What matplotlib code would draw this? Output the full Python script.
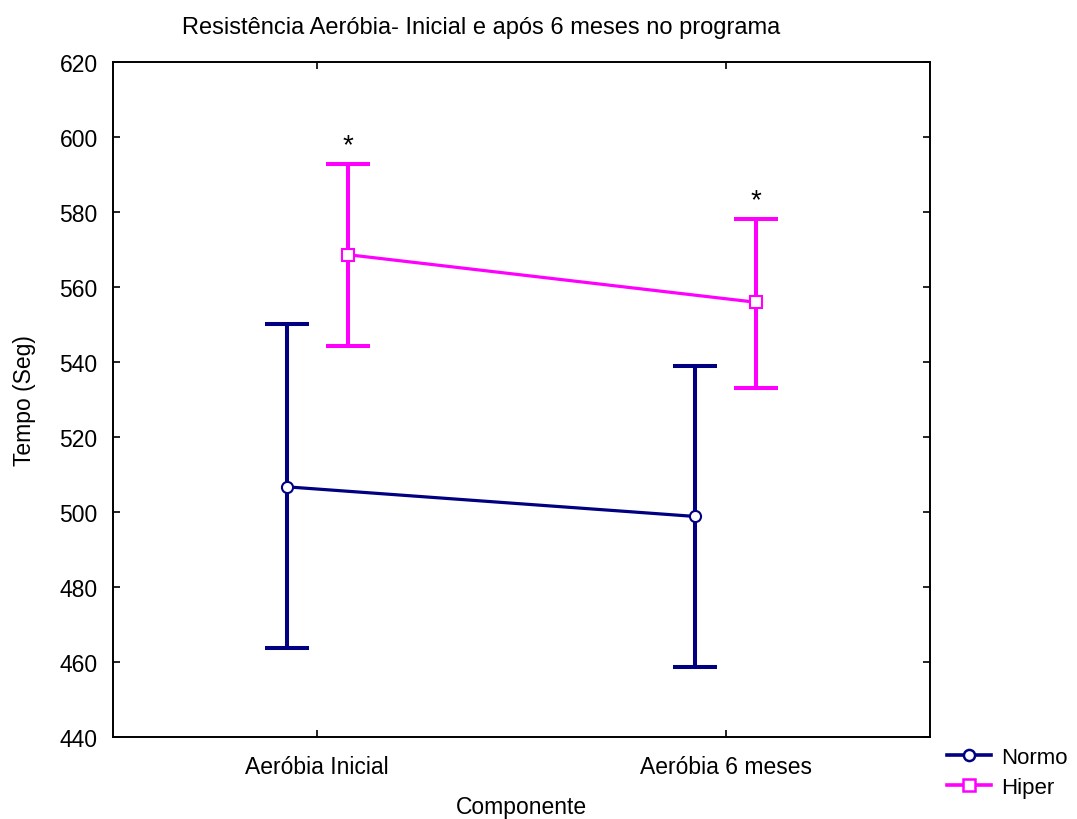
import matplotlib.pyplot as plt
from matplotlib.lines import Line2D
import numpy as np

plt.rcParams['font.family'] = ['Liberation Sans', 'DejaVu Sans']

# Grupos e componentes
componentes = ['Aeróbia Inicial', 'Aeróbia 6 meses']
normo_media = [506.8, 498.9]
normo_inf = [463.7, 458.8]
normo_sup = [550.1, 539.1]
hiper_media = [568.7, 556.0]
hiper_inf = [544.3, 533.1]
hiper_sup = [592.9, 578.3]

fig = plt.figure(figsize=(10.77, 8.2), dpi=100)
ax = fig.add_axes([0.1049, 0.0996, 0.7586, 0.8232])

x = np.arange(len(componentes))
desl = 0.075
fs = 16.5


def desenha_grupo(xs, media, inf, sup, cor, marcador):
    media = np.array(media)
    erro = [media - np.array(inf), np.array(sup) - media]
    ax.errorbar(xs, media, yerr=erro, fmt='none', ecolor=cor, elinewidth=2.9,
                capsize=16, capthick=2.9, zorder=2)
    ax.plot(xs, media, color=cor, lw=2.3, marker=marcador, ms=8,
            mfc='white', mec=cor, mew=1.5, zorder=3)


desenha_grupo(x - desl, normo_media, normo_inf, normo_sup, '#000080', 'o')
desenha_grupo(x + desl, hiper_media, hiper_inf, hiper_sup, '#FF00FF', 's')

# Asteriscos de significância acima das barras do grupo Hiper
for xi, s in zip(x + desl, hiper_sup):
    ax.text(xi, s + 5.0, '*', ha='center', va='center', fontsize=20)

ax.set_xlim(-0.5, 1.5)
ax.set_ylim(440, 620)
ax.set_yticks(np.arange(440, 621, 20))
ax.set_xticks(x)
ax.set_xticklabels(componentes)
ax.tick_params(direction='in', length=5, width=1.2, labelsize=fs,
               top=True, right=True)
ax.tick_params(axis='y', pad=11)
ax.tick_params(axis='x', pad=13)
for sp in ax.spines.values():
    sp.set_linewidth(1.4)

ax.set_xlabel('Componente', fontsize=fs, labelpad=12)
ax.set_ylabel('Tempo (Seg)', fontsize=fs, labelpad=17)

fig.text(0.447, 0.966, 'Resistência Aeróbia- Inicial e após 6 meses no programa',
         ha='center', va='center', fontsize=17)

handles = [
    Line2D([], [], color='#000080', lw=2.6, marker='o', ms=8, mfc='white',
           mec='#000080', mew=1.8),
    Line2D([], [], color='#FF00FF', lw=2.6, marker='s', ms=8, mfc='white',
           mec='#FF00FF', mew=1.8),
]
fig.legend(handles, ['Normo', 'Hiper'], loc='upper left',
           bbox_to_anchor=(0.879, 0.088), frameon=False, fontsize=16,
           handlelength=2.0, handletextpad=0.45, borderaxespad=0,
           borderpad=0, labelspacing=0.4)

fig.savefig('out.png', dpi=100)
